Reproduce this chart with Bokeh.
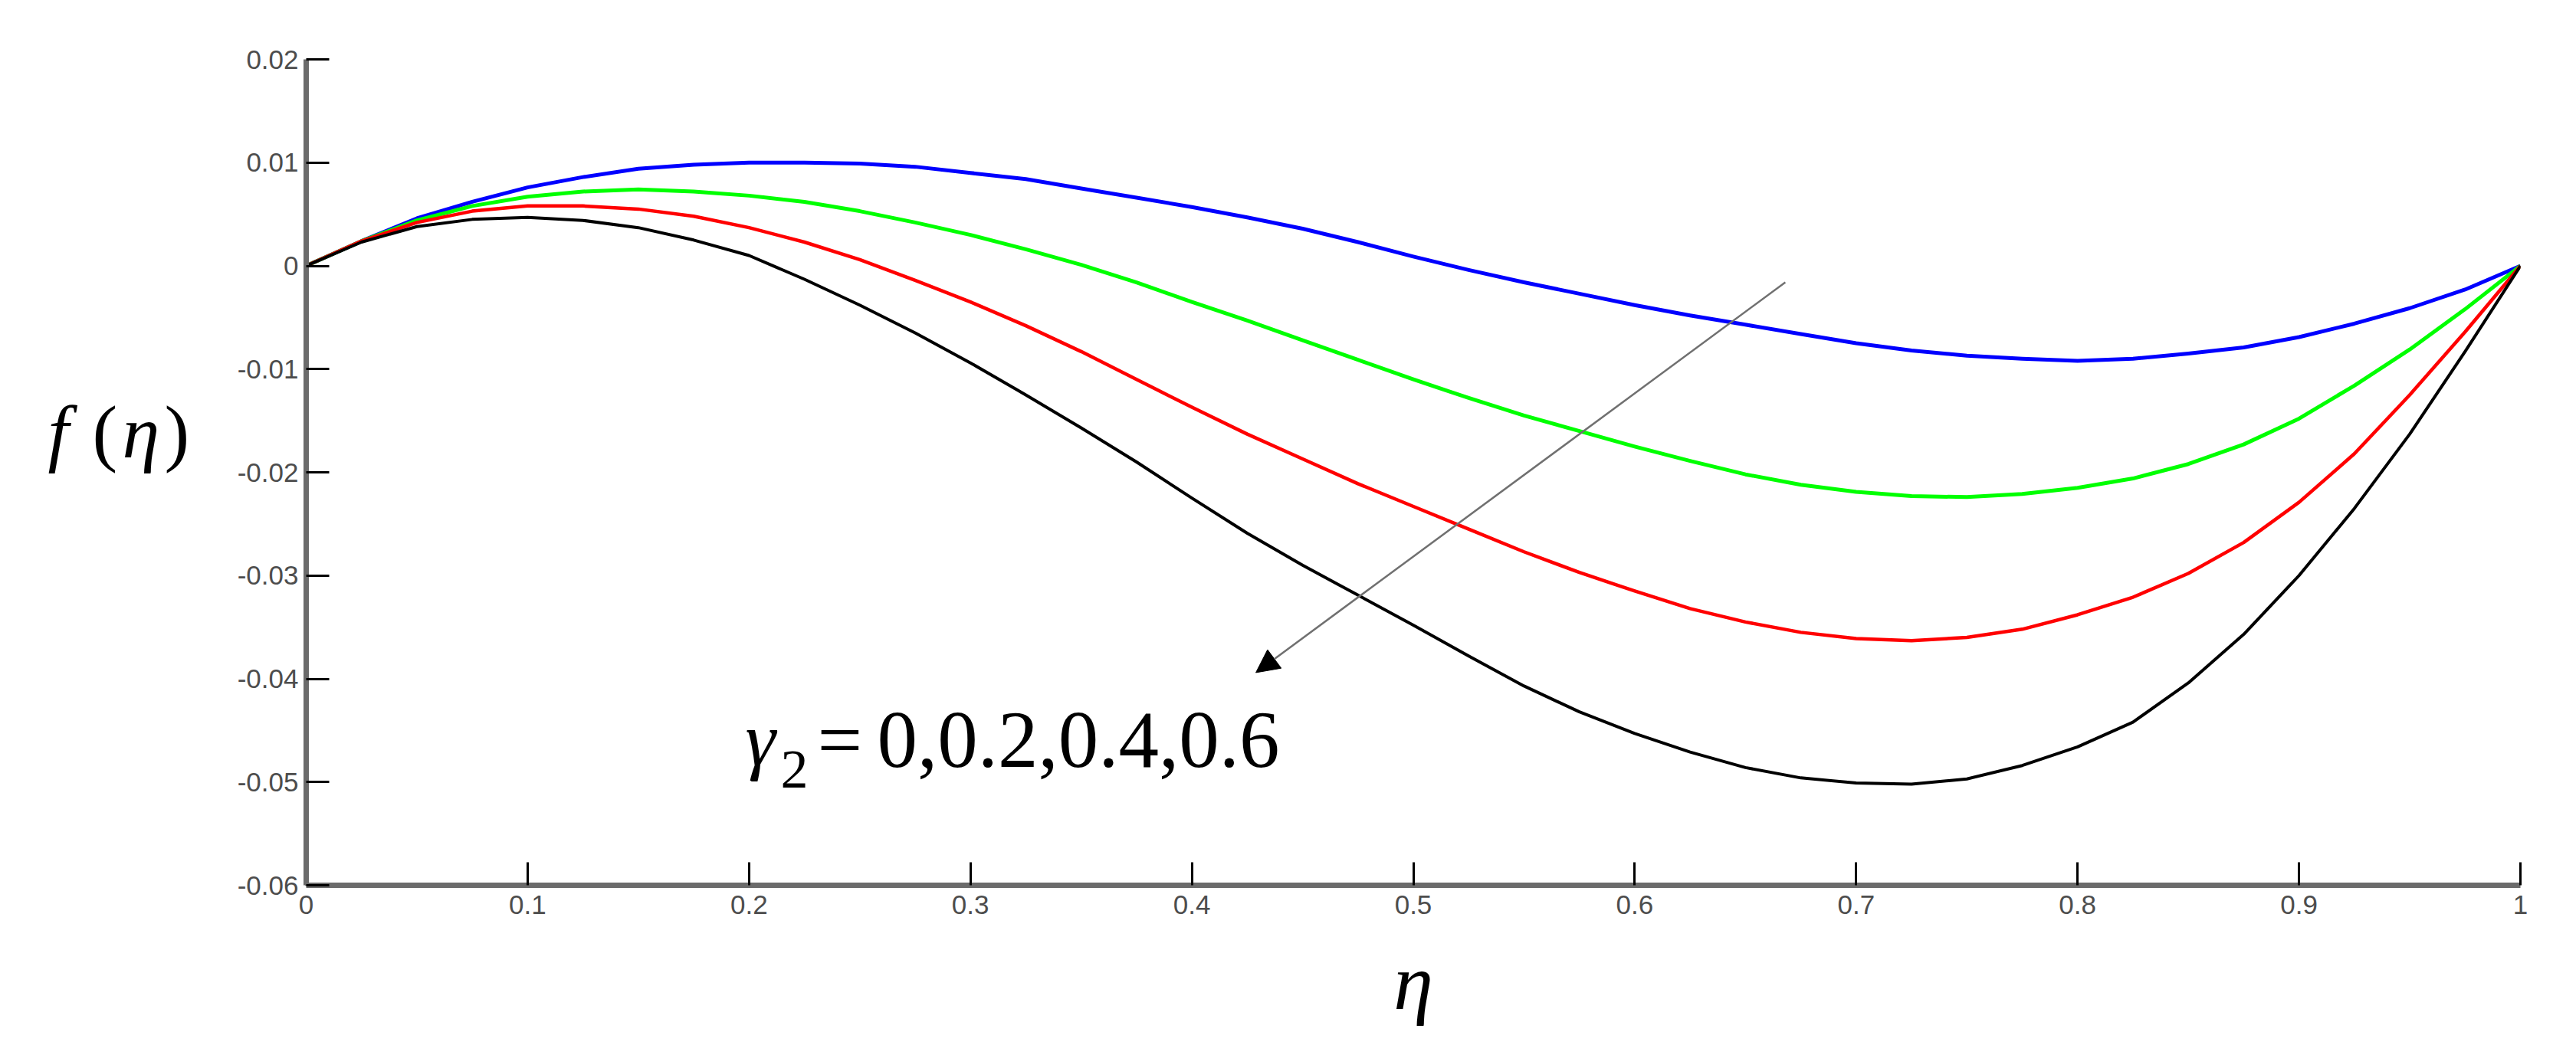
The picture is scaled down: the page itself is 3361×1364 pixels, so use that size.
from bokeh.plotting import figure
from bokeh.layouts import row
from bokeh.models import Range1d, FixedTicker, Label, Arrow, NormalHead
from bokeh.embed import file_html
from bokeh.resources import INLINE

# ---------------- data ----------------
eta = [0.0, 0.025, 0.05, 0.075, 0.1, 0.125, 0.15, 0.175, 0.2, 0.225,
       0.25, 0.275, 0.3, 0.325, 0.35, 0.375, 0.4, 0.425, 0.45, 0.475,
       0.5, 0.525, 0.55, 0.575, 0.6, 0.625, 0.65, 0.675, 0.7, 0.725,
       0.75, 0.775, 0.8, 0.825, 0.85, 0.875, 0.9, 0.925, 0.95, 0.975, 1.0]

# gamma2 = 0 (blue)
f_gamma_0 = [0.0, 0.0024, 0.0046, 0.0062, 0.0076, 0.0086, 0.0094, 0.0098, 0.0100, 0.0100,
             0.0099, 0.0096, 0.0090, 0.0084, 0.0075, 0.0066, 0.0057, 0.0047, 0.0036, 0.0023,
             0.0009, -0.0004, -0.0016, -0.0027, -0.0038, -0.0048, -0.0057, -0.0066, -0.0075, -0.0082,
             -0.0087, -0.0090, -0.0092, -0.0090, -0.0085, -0.0079, -0.0069, -0.0056, -0.0041, -0.0023, 0.0]
# gamma2 = 0.2 (green)
f_gamma_02 = [0.0, 0.0024, 0.0044, 0.0058, 0.0067, 0.0072, 0.0074, 0.0072, 0.0068, 0.0062,
              0.0053, 0.0042, 0.0030, 0.0016, 0.0001, -0.0016, -0.0035, -0.0053, -0.0072, -0.0091,
              -0.0110, -0.0128, -0.0145, -0.0160, -0.0175, -0.0189, -0.0202, -0.0212, -0.0219, -0.0223,
              -0.0224, -0.0221, -0.0215, -0.0206, -0.0192, -0.0173, -0.0148, -0.0116, -0.0081, -0.0042, 0.0]
# gamma2 = 0.4 (red)
f_gamma_04 = [0.0, 0.0024, 0.0042, 0.0053, 0.0058, 0.0058, 0.0055, 0.0048, 0.0037, 0.0023,
              0.0006, -0.0014, -0.0035, -0.0058, -0.0083, -0.0110, -0.0137, -0.0163, -0.0187, -0.0211,
              -0.0233, -0.0255, -0.0277, -0.0297, -0.0315, -0.0332, -0.0345, -0.0355, -0.0361, -0.0363,
              -0.0360, -0.0352, -0.0338, -0.0321, -0.0298, -0.0268, -0.0229, -0.0182, -0.0125, -0.0064, 0.0]
# gamma2 = 0.6 (black)
f_gamma_06 = [0.0, 0.0023, 0.0038, 0.0045, 0.0047, 0.0044, 0.0037, 0.0025, 0.0010, -0.0013,
              -0.0038, -0.0065, -0.0094, -0.0125, -0.0157, -0.0190, -0.0225, -0.0259, -0.0290, -0.0319,
              -0.0348, -0.0378, -0.0407, -0.0432, -0.0453, -0.0471, -0.0486, -0.0496, -0.0501, -0.0502,
              -0.0497, -0.0484, -0.0466, -0.0442, -0.0404, -0.0357, -0.0300, -0.0235, -0.0163, -0.0083, 0.0]

series = [f_gamma_0, f_gamma_02, f_gamma_04, f_gamma_06]
series_colors = ["#0000ff", "#00ff00", "#ff0000", "#000000"]
series_widths = [5, 5, 4.5, 4]

x_ticks = [0, 0.1, 0.2, 0.3, 0.4, 0.5, 0.6, 0.7, 0.8, 0.9, 1]
x_tick_labels = ["0", "0.1", "0.2", "0.3", "0.4", "0.5", "0.6", "0.7", "0.8", "0.9", "1"]
y_ticks = [-0.06, -0.05, -0.04, -0.03, -0.02, -0.01, 0, 0.01, 0.02]
y_tick_labels = ["-0.06", "-0.05", "-0.04", "-0.03", "-0.02", "-0.01", "0", "0.01", "0.02"]

annotation_symbol = "\u03b3"
annotation_sub = "2"
annotation_values = "0,0.2,0.4,0.6"

SERIF = "Liberation Serif"

# ---------------- layout sizes ----------------
W, H = 3361, 1364
LEFT_W = 262               # strip holding the horizontal y-axis label
MAIN_W = W - LEFT_W

# ---------------- left strip with f(eta) ----------------
left = figure(width=LEFT_W, height=H, output_backend="svg", toolbar_location=None,
              x_range=Range1d(0, LEFT_W), y_range=Range1d(0, H),
              min_border=0)
left.axis.visible = False
left.grid.visible = False
left.outline_line_color = None
left.background_fill_color = "white"
left.border_fill_color = "white"
for txt, xx, style in (("f", 62, "italic"), ("(", 120, "normal"),
                       ("\u03b7", 159, "italic"), (")", 214, "normal")):
    left.add_layout(Label(x=xx, y=H - 616, text=txt, text_font=SERIF,
                          text_font_style=style, text_font_size="98px",
                          text_color="black", text_align="left",
                          text_baseline="alphabetic"))

# ---------------- main figure ----------------
p = figure(width=MAIN_W, height=H, output_backend="svg", toolbar_location=None,
           x_range=Range1d(0, 1), y_range=Range1d(-0.06, 0.02),
           min_border_left=399 - LEFT_W, min_border_right=W - 3288,
           min_border_top=77, min_border_bottom=H - 1155)
p.background_fill_color = "white"
p.border_fill_color = "white"
p.outline_line_color = None
p.grid.visible = False

for ys, c, w in zip(series, series_colors, series_widths):
    p.line(eta, ys, line_color=c, line_width=w, line_join="round")

for ax, ticks, labels in ((p.xaxis[0], x_ticks, x_tick_labels),
                          (p.yaxis[0], y_ticks, y_tick_labels)):
    ax.ticker = FixedTicker(ticks=ticks)
    ax.major_label_overrides = {t: l for t, l in zip(ticks, labels)}
    ax.major_tick_in = 30
    ax.major_tick_out = 0
    ax.minor_tick_line_color = None
    ax.major_tick_line_color = "#000000"
    ax.major_tick_line_width = 3
    ax.axis_line_color = "#6b6b6b"
    ax.axis_line_width = 7
    ax.major_label_text_font = "Liberation Sans"
    ax.major_label_text_font_size = "35px"
    ax.major_label_text_color = "#4d4d4d"

p.yaxis[0].major_label_standoff = 10
p.xaxis[0].major_label_standoff = 13

# x-axis label eta
p.xaxis[0].axis_label = "\u03b7"
p.xaxis[0].axis_label_text_font = SERIF
p.xaxis[0].axis_label_text_font_style = "italic"
p.xaxis[0].axis_label_text_font_size = "104px"
p.xaxis[0].axis_label_text_color = "black"
p.xaxis[0].axis_label_standoff = 28

# annotation gamma_2 = 0,0.2,0.4,0.6
BASE_Y = -0.0459
SUB_Y = -0.0488
p.add_layout(Label(x=0.1983, y=BASE_Y, text=annotation_symbol, text_font=SERIF,
                   text_font_style="italic", text_font_size="100px",
                   text_color="black", text_baseline="alphabetic"))
p.add_layout(Label(x=0.2143, y=SUB_Y, text=annotation_sub, text_font=SERIF,
                   text_font_size="72px", text_color="black",
                   text_baseline="alphabetic"))
p.add_layout(Label(x=0.2309, y=BASE_Y, text="=", text_font=SERIF,
                   text_font_size="104px", text_color="black",
                   text_baseline="alphabetic"))
p.add_layout(Label(x=0.2579, y=BASE_Y, text=annotation_values, text_font=SERIF,
                   text_font_size="105px", text_color="black",
                   text_baseline="alphabetic"))

# arrow
p.add_layout(Arrow(end=NormalHead(size=30, fill_color="black", line_color="black",
                                  line_width=1),
                   x_start=0.668, y_start=-0.0016, x_end=0.4289, y_end=-0.0394,
                   line_color="#707070", line_width=2.5))

layout = row(left, p)
open("out.html", "w").write(file_html(layout, INLINE))
